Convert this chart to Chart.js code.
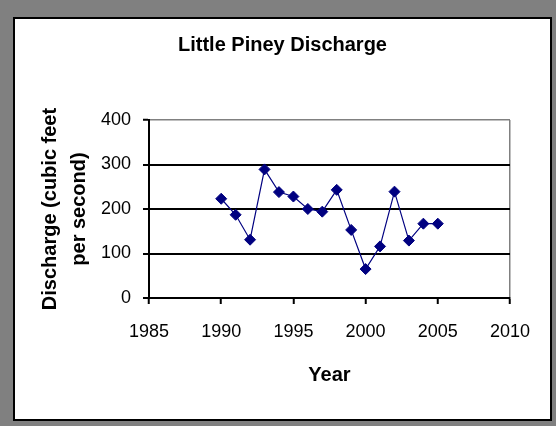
<!DOCTYPE html>
<html>
<head>
<meta charset="utf-8">
<title>Little Piney Discharge</title>
<script src="https://cdn.jsdelivr.net/npm/chart.js@4.4.0/dist/chart.umd.min.js"></script>
<style>
    html, body { margin: 0; padding: 0; background: #808080; width: 556px; height: 426px; overflow: hidden; }
    #marco { position: absolute; left: 13px; top: 17px; width: 535px; height: 400px; border: 2px solid #000; background: #fff; }
    canvas { display: block; }
</style>
</head>
<body>
<div id="marco"><canvas id="grafica" width="535" height="400"></canvas></div>
<script>
// Datos
const chartTitle = 'Little Piney Discharge';
const years = [1990, 1991, 1992, 1993, 1994, 1995, 1996, 1997, 1998, 1999, 2000, 2001, 2002, 2003, 2004, 2005];
const discharge = [223, 187, 131, 289, 238, 228, 200, 194, 243, 153, 65, 116, 239, 129, 167, 167];
const xTicks = [1985, 1990, 1995, 2000, 2005, 2010];
const yTicks = [0, 100, 200, 300, 400];

const fontFamily = '"Liberation Sans", Arial, sans-serif';
const navy = '#000080';
const gris = '#808080';

// Título dibujado centrado sobre todo el recuadro
const tituloPlugin = {
    id: 'tituloFijo',
    afterDraw(chart) {
        const ctx = chart.ctx;
        ctx.save();
        ctx.font = 'bold 20px ' + fontFamily;
        ctx.fillStyle = '#000';
        ctx.textAlign = 'center';
        ctx.textBaseline = 'middle';
        ctx.fillText(chartTitle, chart.width / 2, 26.5);
        ctx.restore();
    }
};

const puntos = years.map((y, i) => ({ x: y, y: discharge[i] }));

const ctx = document.getElementById('grafica').getContext('2d');
const chart = new Chart(ctx, {
    type: 'line',
    data: {
        datasets: [{
            label: 'Discharge',
            data: puntos,
            borderColor: navy,
            borderWidth: 1.2,
            backgroundColor: navy,
            pointStyle: 'rectRot',
            pointRadius: 5.5,
            pointBorderWidth: 1,
            pointBackgroundColor: navy,
            pointBorderColor: navy,
            tension: 0
        }]
    },
    options: {
        responsive: false,
        animation: false,
        layout: { padding: { top: 101, right: 40, left: 0, bottom: 0 } },
        plugins: {
            legend: { display: false },
            tooltip: { enabled: false }
        },
        scales: {
            x: {
                type: 'linear',
                min: 1985,
                max: 2010,
                afterBuildTicks: s => { s.ticks = xTicks.map(v => ({ value: v })); },
                afterFit: s => { s.height = 121; },
                grid: {
                    drawOnChartArea: true,
                    color: c => (c.tick && c.tick.value === 2010) ? gris : 'rgba(0,0,0,0)',
                    lineWidth: 1.5,
                    tickColor: '#000',
                    tickWidth: 2,
                    tickLength: 6
                },
                border: { color: '#000', width: 2 },
                ticks: {
                    color: '#000',
                    font: { family: fontFamily, size: 18 },
                    padding: 17.5,
                    maxRotation: 0,
                    autoSkip: false,
                    callback: v => String(v)
                },
                title: {
                    display: true,
                    text: 'Year',
                    color: '#000',
                    font: { family: fontFamily, size: 20, weight: 'bold' },
                    padding: { top: 0, bottom: 32 }
                }
            },
            y: {
                min: 0,
                max: 400,
                afterBuildTicks: s => { s.ticks = yTicks.map(v => ({ value: v })); },
                afterFit: s => { s.width = 134; },
                grid: {
                    color: c => (c.tick && c.tick.value === 400) ? gris : '#000',
                    lineWidth: c => (c.tick && c.tick.value === 400) ? 1.5 : 2,
                    tickColor: '#000',
                    tickWidth: 2,
                    tickLength: 6
                },
                border: { color: '#000', width: 2 },
                ticks: {
                    color: '#000',
                    font: { family: fontFamily, size: 18 },
                    padding: 12,
                    callback: v => String(v)
                },
                title: {
                    display: true,
                    text: ['Discharge (cubic feet', 'per second)'],
                    color: '#000',
                    font: { family: fontFamily, size: 20, weight: 'bold', lineHeight: 1.45 },
                    padding: { top: 20.5, bottom: 0 }
                }
            }
        }
    },
    plugins: [tituloPlugin]
});
</script>
</body>
</html>
